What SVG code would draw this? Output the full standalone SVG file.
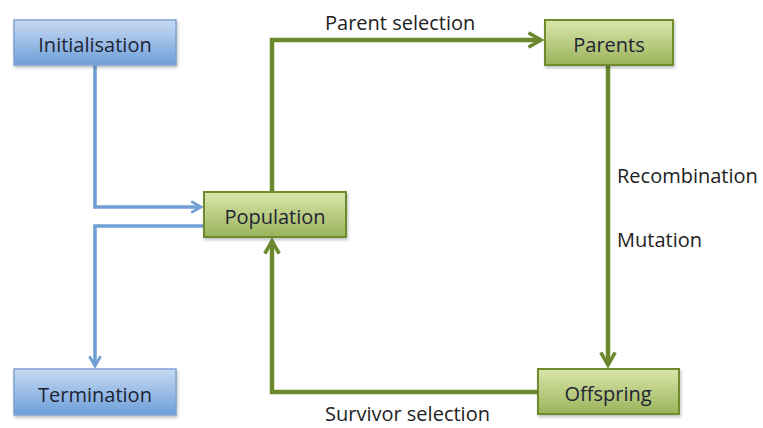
<svg xmlns="http://www.w3.org/2000/svg" width="763" height="428" viewBox="0 0 763 428">
<style>
.t{font-family:"Open Sans","Liberation Sans",sans-serif;font-size:20px;fill:#1e2433;text-anchor:middle;dominant-baseline:central}
.l{font-family:"Open Sans","Liberation Sans",sans-serif;font-size:20px;fill:#222;dominant-baseline:central}
.bb{fill:url(#gb);stroke:#7fa3d3;stroke-width:1.5}
.gb{fill:url(#gg);stroke:#6f8b2e;stroke-width:2}
.bl{fill:none;stroke:#6f9fd4;stroke-width:3.5}
.gl{fill:none;stroke:#6b8a2e;stroke-width:4.5}
</style>
<defs>
<linearGradient id="gb" x1="0" y1="0" x2="0" y2="1"><stop offset="0" stop-color="#c8daf2"/><stop offset="1" stop-color="#6d9fd9"/></linearGradient>
<linearGradient id="gg" x1="0" y1="0" x2="0" y2="1"><stop offset="0" stop-color="#dbe6ab"/><stop offset="1" stop-color="#9ab35a"/></linearGradient>
<filter id="sh" x="-10%" y="-10%" width="120%" height="130%"><feDropShadow dx="1" dy="2" stdDeviation="1.5" flood-color="#000" flood-opacity="0.25"/></filter>
<marker id="ab" viewBox="0 0 10 10" refX="8" refY="5" markerWidth="4" markerHeight="4" orient="auto" markerUnits="strokeWidth"><path d="M1,1 L8,5 L1,9" fill="none" stroke="#6f9fd4" stroke-width="2"/></marker>
<marker id="ag" viewBox="0 0 10 10" refX="8" refY="5" markerWidth="4" markerHeight="4" orient="auto" markerUnits="strokeWidth"><path d="M1,1 L8,5 L1,9" fill="none" stroke="#6b8a2e" stroke-width="2"/></marker>
</defs>
<g id="connectors">
<path class="bl" d="M95,65 V207 H201" marker-end="url(#ab)"/>
<path class="bl" d="M204,226 H95 V366" marker-end="url(#ab)"/>
<path class="gl" d="M272,192 V40 H541" marker-end="url(#ag)"/>
<path class="gl" d="M608,65 V365" marker-end="url(#ag)"/>
<path class="gl" d="M538,392 H272 V241" marker-end="url(#ag)"/>
<text class="l" x="325" y="22">Parent selection</text>
<text class="l" x="617" y="175">Recombination</text>
<text class="l" x="617" y="239">Mutation</text>
<text class="l" x="325" y="413">Survivor selection</text>
</g>
<g id="initialisation"><rect class="bb" x="14" y="20" width="162" height="45" filter="url(#sh)"/><text class="t" x="95" y="44">Initialisation</text></g>
<g id="population"><rect class="gb" x="204" y="192" width="142" height="45" filter="url(#sh)"/><text class="t" x="275" y="216">Population</text></g>
<g id="parents"><rect class="gb" x="545" y="20" width="128" height="45" filter="url(#sh)"/><text class="t" x="609" y="44">Parents</text></g>
<g id="termination"><rect class="bb" x="14" y="369" width="162" height="46" filter="url(#sh)"/><text class="t" x="95" y="394">Termination</text></g>
<g id="offspring"><rect class="gb" x="538" y="369" width="141" height="45" filter="url(#sh)"/><text class="t" x="608" y="393">Offspring</text></g>
</svg>
